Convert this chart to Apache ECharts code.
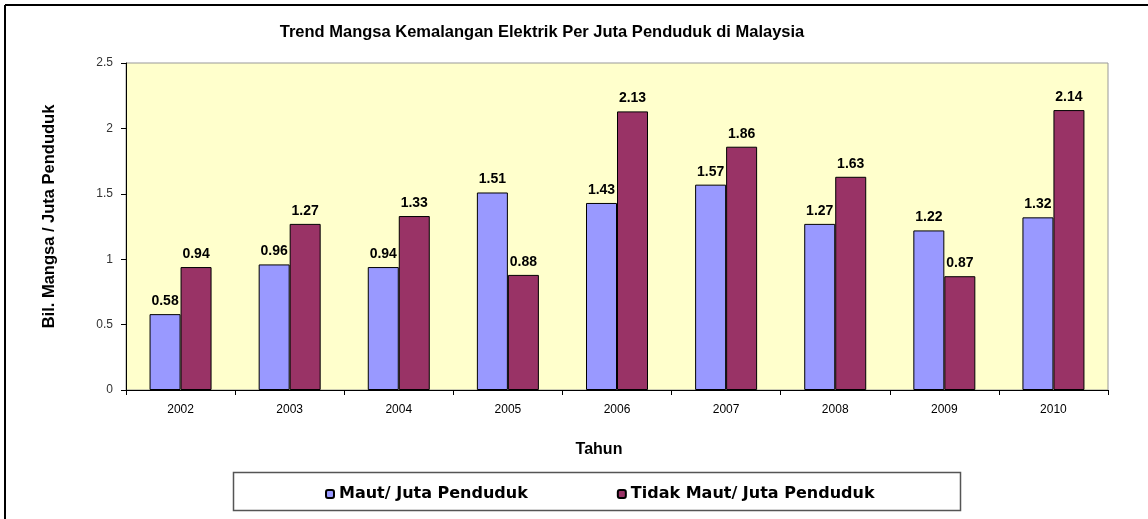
<!DOCTYPE html>
<html>
<head>
<meta charset="utf-8">
<title>Trend Mangsa Kemalangan Elektrik</title>
<script src="https://cdn.jsdelivr.net/npm/echarts@6/dist/echarts.min.js"></script>
<style>
  html, body { margin: 0; padding: 0; background: #fff; }
  #chart { width: 1148px; height: 519px; }
</style>
</head>
<body>
<div id="chart"></div>
<script>
// data
var tahun = ['2002', '2003', '2004', '2005', '2006', '2007', '2008', '2009', '2010'];
var maut = [0.58, 0.96, 0.94, 1.51, 1.43, 1.57, 1.27, 1.22, 1.32];
var tidakMaut = [0.94, 1.27, 1.33, 0.88, 2.13, 1.86, 1.63, 0.87, 2.14];
var namaSiri = ['Maut/ Juta Penduduk', 'Tidak Maut/ Juta Penduduk'];

var chart = echarts.init(document.getElementById('chart'));

var labelBar = {
  show: true,
  position: 'top',
  distance: 6,
  color: '#000',
  fontFamily: 'Liberation Sans, Arial, sans-serif',
  fontWeight: 'bold',
  fontSize: 14
};

chart.setOption({
  animation: false,
  title: {
    text: 'Trend Mangsa Kemalangan Elektrik Per Juta Penduduk di Malaysia',
    left: 537,
    top: 19,
    textAlign: 'center',
    textStyle: {
      fontFamily: 'Liberation Sans, Arial, sans-serif',
      fontWeight: 'bold',
      fontSize: 16.5,
      color: '#000'
    }
  },
  legend: {
    data: namaSiri,
    left: 320,
    top: 481,
    itemWidth: 8,
    itemHeight: 8,
    itemGap: 89,
    textStyle: {
      fontFamily: 'DejaVu Sans, Verdana, sans-serif',
      fontWeight: 'bold',
      fontSize: 16,
      color: '#000'
    }
  },
  graphic: [
    { type: 'line', shape: { x1: 5, y1: 5, x2: 1148, y2: 5 }, style: { stroke: '#000', lineWidth: 2 } },
    { type: 'line', shape: { x1: 5, y1: 5, x2: 5, y2: 519 }, style: { stroke: '#000', lineWidth: 2 } },
    { type: 'rect', z: -1, shape: { x: 233.5, y: 472.5, width: 727, height: 38 }, style: { fill: '#fff', stroke: '#555', lineWidth: 1.5 } }
  ],
  grid: {
    left: 126,
    right: 40,
    top: 63,
    bottom: 129,
    show: true,
    backgroundColor: '#FFFFCC',
    borderColor: '#999',
    borderWidth: 1
  },
  xAxis: {
    type: 'category',
    data: tahun,
    name: 'Tahun',
    nameLocation: 'middle',
    nameGap: 52,
    nameTextStyle: {
      fontFamily: 'Liberation Sans, Arial, sans-serif',
      fontWeight: 'bold',
      fontSize: 16,
      color: '#000',
      padding: [0, 36, 0, 0]
    },
    axisLine: { lineStyle: { color: '#000', width: 1 } },
    axisTick: { show: true, length: 5, lineStyle: { color: '#000' } },
    axisLabel: {
      margin: 14,
      fontFamily: 'Liberation Sans, Arial, sans-serif',
      fontSize: 12,
      color: '#000'
    }
  },
  yAxis: {
    type: 'value',
    min: 0,
    max: 2.5,
    interval: 0.5,
    name: 'Bil. Mangsa / Juta Penduduk',
    nameLocation: 'middle',
    nameGap: 68,
    nameTextStyle: {
      fontFamily: 'Liberation Sans, Arial, sans-serif',
      fontWeight: 'bold',
      fontSize: 16.5,
      color: '#000',
      padding: [0, 0, 0, 20]
    },
    axisLine: { show: true, lineStyle: { color: '#000', width: 1 } },
    axisTick: { show: true, length: 5, lineStyle: { color: '#000' } },
    splitLine: { show: false },
    axisLabel: {
      margin: 13,
      fontFamily: 'Liberation Sans, Arial, sans-serif',
      fontSize: 12,
      color: '#333'
    }
  },
  series: [
    {
      name: namaSiri[0],
      type: 'bar',
      data: maut,
      barWidth: 31,
      barGap: '0%',
      itemStyle: { color: '#9999FF', borderColor: '#000', borderWidth: 1 },
      label: labelBar
    },
    {
      name: namaSiri[1],
      type: 'bar',
      data: tidakMaut,
      barWidth: 31,
      itemStyle: { color: '#993366', borderColor: '#000', borderWidth: 1 },
      label: labelBar
    }
  ]
});
</script>
</body>
</html>
